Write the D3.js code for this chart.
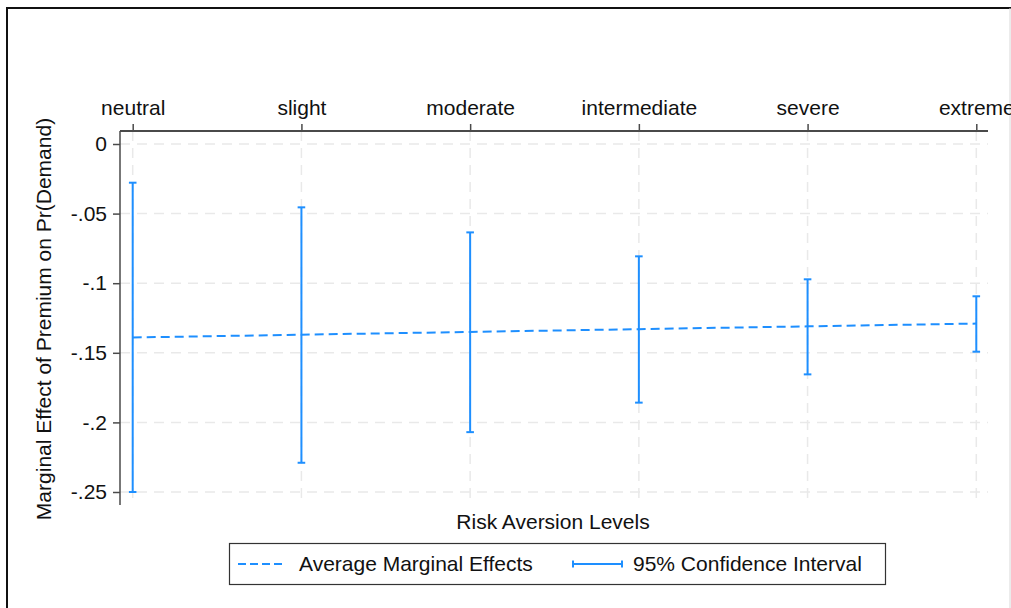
<!DOCTYPE html>
<html>
<head>
<meta charset="utf-8">
<script src="https://cdn.jsdelivr.net/npm/d3@7"></script>
<style>
  html, body { margin: 0; padding: 0; background: #fff; }
  svg { display: block; font-family: "Liberation Sans", Arial, Helvetica, sans-serif; }
</style>
</head>
<body>
<svg id="chart" width="1011" height="608"></svg>
<script>
// Risk aversion categories and estimated marginal effects with 95% CIs
const levels = ["neutral", "slight", "moderate", "intermediate", "severe", "extreme"];
const marginalEffect = [-0.139, -0.137, -0.135, -0.133, -0.131, -0.129];
const ciLower = [-0.250, -0.229, -0.207, -0.1858, -0.1655, -0.1492];
const ciUpper = [-0.0278, -0.0455, -0.0635, -0.0807, -0.0972, -0.1094];
const yTicks = [0, -0.05, -0.1, -0.15, -0.2, -0.25];
const yTickLabels = ["0", "-.05", "-.1", "-.15", "-.2", "-.25"];

const rows = levels.map((lvl, i) => ({
  level: lvl, me: marginalEffect[i], lo: ciLower[i], hi: ciUpper[i]
}));

const svg = d3.select("#chart");
const blue = "#1e8fff";
const gridColor = "#e9e9e9";
const axisColor = "#4a4a4a";
const fontSize = 21;

const plot = { left: 120, right: 988, top: 131, bottom: 505 };

const x = d3.scalePoint().domain(levels).range([132.7, 976.3]);
const y = d3.scaleLinear().domain([0, -0.25]).range([144, 492]);

// Outer frame
svg.append("path")
  .attr("d", `M7,608 L7,8 L1011,8`)
  .attr("fill", "none").attr("stroke", "#111").attr("stroke-width", 2);
svg.append("line")
  .attr("x1", 1010).attr("x2", 1010).attr("y1", 8).attr("y2", 608)
  .attr("stroke", "#d8d8d8").attr("stroke-width", 1);

// Gridlines
const grid = svg.append("g");
grid.selectAll("line.hgrid").data(yTicks).join("line")
  .attr("class", "hgrid")
  .attr("x1", plot.left).attr("x2", plot.right)
  .attr("y1", d => y(d)).attr("y2", d => y(d))
  .attr("stroke", gridColor).attr("stroke-width", 1.5)
  .attr("stroke-dasharray", "10,7");
grid.selectAll("line.vgrid").data(levels).join("line")
  .attr("class", "vgrid")
  .attr("x1", d => x(d)).attr("x2", d => x(d))
  .attr("y1", plot.top).attr("y2", plot.bottom)
  .attr("stroke", gridColor).attr("stroke-width", 1.5)
  .attr("stroke-dasharray", "10,7");

// Left axis
const yAxis = d3.axisLeft(y)
  .tickValues(yTicks)
  .tickFormat((d, i) => yTickLabels[i])
  .tickSize(7).tickPadding(6);
const gy = svg.append("g").attr("transform", `translate(${plot.left},0)`).call(yAxis);
gy.select(".domain").remove();
gy.append("line")
  .attr("x1", 0).attr("x2", 0).attr("y1", plot.top).attr("y2", plot.bottom)
  .attr("stroke", axisColor).attr("stroke-width", 1.5);
gy.selectAll(".tick line").attr("stroke", axisColor).attr("stroke-width", 1.5);
gy.selectAll(".tick text")
  .attr("font-size", fontSize).attr("fill", "#111")
  .attr("font-family", "Liberation Sans, Arial, sans-serif");

// Top axis with category labels
const xAxis = d3.axisTop(x).tickSize(7).tickPadding(9);
const gx = svg.append("g").attr("transform", `translate(0,${plot.top})`).call(xAxis);
gx.select(".domain").remove();
gx.append("line")
  .attr("x1", plot.left).attr("x2", plot.right).attr("y1", 0).attr("y2", 0)
  .attr("stroke", axisColor).attr("stroke-width", 2);
gx.selectAll(".tick line").attr("stroke", axisColor).attr("stroke-width", 1.5);
gx.selectAll(".tick text")
  .attr("font-size", fontSize).attr("fill", "#111")
  .attr("font-family", "Liberation Sans, Arial, sans-serif");

// Confidence intervals
const ci = svg.append("g").attr("stroke", blue).attr("stroke-width", 2).attr("fill", "none");
ci.selectAll("line.ci").data(rows).join("line")
  .attr("class", "ci")
  .attr("x1", d => x(d.level)).attr("x2", d => x(d.level))
  .attr("y1", d => y(d.lo)).attr("y2", d => y(d.hi));
const capW = 3.8;
ci.selectAll("line.capHi").data(rows).join("line")
  .attr("x1", d => x(d.level) - capW).attr("x2", d => x(d.level) + capW)
  .attr("y1", d => y(d.hi)).attr("y2", d => y(d.hi));
ci.selectAll("line.capLo").data(rows).join("line")
  .attr("x1", d => x(d.level) - capW).attr("x2", d => x(d.level) + capW)
  .attr("y1", d => y(d.lo)).attr("y2", d => y(d.lo));

// Average marginal effects line
const line = d3.line().x(d => x(d.level)).y(d => y(d.me));
svg.append("path")
  .datum(rows)
  .attr("d", line)
  .attr("fill", "none").attr("stroke", blue).attr("stroke-width", 2)
  .attr("stroke-dasharray", "9,5");

// Axis titles
svg.append("text")
  .attr("x", 553).attr("y", 529)
  .attr("text-anchor", "middle")
  .attr("font-size", fontSize).attr("fill", "#111")
  .text("Risk Aversion Levels");
svg.append("text")
  .attr("transform", "translate(51,319) rotate(-90)")
  .attr("text-anchor", "middle")
  .attr("font-size", fontSize).attr("fill", "#111")
  .text("Marginal Effect of Premium on Pr(Demand)");

// Legend
const legend = svg.append("g");
legend.append("rect")
  .attr("x", 229.5).attr("y", 543.5).attr("width", 656).attr("height", 41)
  .attr("fill", "#fff").attr("stroke", "#333").attr("stroke-width", 1.2);
legend.append("line")
  .attr("x1", 238).attr("x2", 284).attr("y1", 564).attr("y2", 564)
  .attr("stroke", blue).attr("stroke-width", 2).attr("stroke-dasharray", "8,4");
legend.append("text")
  .attr("x", 299).attr("y", 571)
  .attr("font-size", fontSize).attr("fill", "#111")
  .text("Average Marginal Effects");
const lg = legend.append("g").attr("stroke", blue).attr("stroke-width", 2);
lg.append("line").attr("x1", 573).attr("x2", 622).attr("y1", 564).attr("y2", 564);
lg.append("line").attr("x1", 573).attr("x2", 573).attr("y1", 560.5).attr("y2", 567.5);
lg.append("line").attr("x1", 622).attr("x2", 622).attr("y1", 560.5).attr("y2", 567.5);
legend.append("text")
  .attr("x", 633).attr("y", 571)
  .attr("font-size", fontSize).attr("fill", "#111")
  .text("95% Confidence Interval");
</script>
</body>
</html>
